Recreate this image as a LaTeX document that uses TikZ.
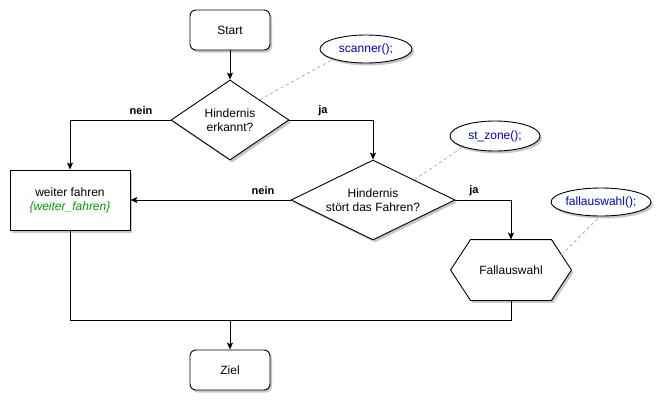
\documentclass[tikz,border=0pt]{standalone}
\usepackage{fontspec}
\setmainfont{Liberation Sans}
\usetikzlibrary{shapes.geometric,arrows.meta,calc,shadows}
\definecolor{codeblue}{RGB}{0,0,204}
\definecolor{codegreen}{RGB}{0,153,0}
\definecolor{hintgray}{RGB}{175,175,175}
\begin{document}
\begin{tikzpicture}[x=1pt,y=-1pt,
  font=\fontsize{12}{14}\selectfont,
  every node/.style={line width=0.9pt},
  shad/.style={drop shadow={shadow xshift=2pt,shadow yshift=-2.5pt,opacity=0.22,fill=black}},
  term/.style={draw,rounded corners=6pt,minimum width=80pt,minimum height=40pt,fill=white,shad,inner sep=0pt},
  procbox/.style={draw,minimum width=120pt,minimum height=60pt,fill=white,shad,align=center,inner sep=0pt},
  dec/.style={draw,diamond,inner sep=0pt,fill=white,shad},
  txt/.style={align=center,inner sep=0pt},
  note/.style={draw,ellipse,inner sep=0pt,minimum width=92pt,minimum height=28pt,fill=white,shad,text=codeblue},
  hint/.style={draw=hintgray,dashed,line width=0.8pt,dash pattern=on 3pt off 3pt},
  arr/.style={draw,line width=0.9pt,-{Stealth[length=7pt,width=6pt,inset=1.5pt]}},
  ln/.style={draw,line width=0.9pt},
  lab/.style={font=\fontsize{11}{13}\selectfont\bfseries,inner sep=0pt},
]
\useasboundingbox (0,0) rectangle (667,407);
\fill[white] (0,0) rectangle (667,407);

% nodes
\node[term] (st) at (230,30) {Start};
\node[dec,minimum width=118pt,minimum height=80pt] (d1) at (230,120) {};
\node[txt] (d1t) at (230,120) {Hindernis\\erkannt?};
\node[dec,minimum width=164pt,minimum height=80pt] (d2) at (373,200) {};
\node[txt] (d2t) at (373,200) {Hindernis\\st\"ort das Fahren?};
\node[procbox] (wf) at (70,200) {weiter fahren\\\textcolor{codegreen}{\itshape\{weiter\_fahren\}}};

% hexagon
\node[minimum width=120pt,minimum height=60pt,inner sep=0pt] (fa) at (511,270) {};
\draw[line width=0.9pt,fill=white,shad] (fa.west) -- ($(fa.north west)+(20,0)$) -- ($(fa.north east)+(-20,0)$)
   -- (fa.east) -- ($(fa.south east)+(-20,0)$) -- ($(fa.south west)+(20,0)$) -- cycle;
\node[txt] (fat) at (fa.center) {Fallauswahl};

\node[term] (zi) at (230,370) {Ziel};

% notes
\node[note] (n1) at (366,49) {scanner();};
\node[note,minimum width=90pt,minimum height=30pt] (n2) at (495,136) {st\_zone();};
\node[note,minimum width=100pt] (n3) at (601,202) {fallauswahl();};

\draw[hint] ($(d1.north)!0.5!(d1.east)$) -- (n1.south west);
\draw[hint] ($(d2.north)!0.5!(d2.east)$) -- (n2.south west);
\draw[hint] ($(fa.east)!0.5!($(fa.north east)+(-20,0)$)$) -- (n3.265);

% connectors
\draw[arr] (st.south) -- (d1.north);
\draw[arr] (d1.east) -| (d2.north);
\draw[arr] (d1.west) -| (wf.north);
\draw[arr] (d2.west) -- (wf.east);
\draw[arr] (d2.east) -| (fa.north);
\coordinate (j) at (230,320);
\draw[ln] (wf.south) |- (j);
\draw[ln] (fa.south) |- (j);
\draw[arr] (j) -- (zi.north);

% labels
\node[lab] (l1) at (141,111) {nein};
\node[lab] (l2) at (323,111) {ja};
\node[lab] (l3) at (263,191) {nein};
\node[lab] (l4) at (474,191) {ja};
\end{tikzpicture}
\end{document}
